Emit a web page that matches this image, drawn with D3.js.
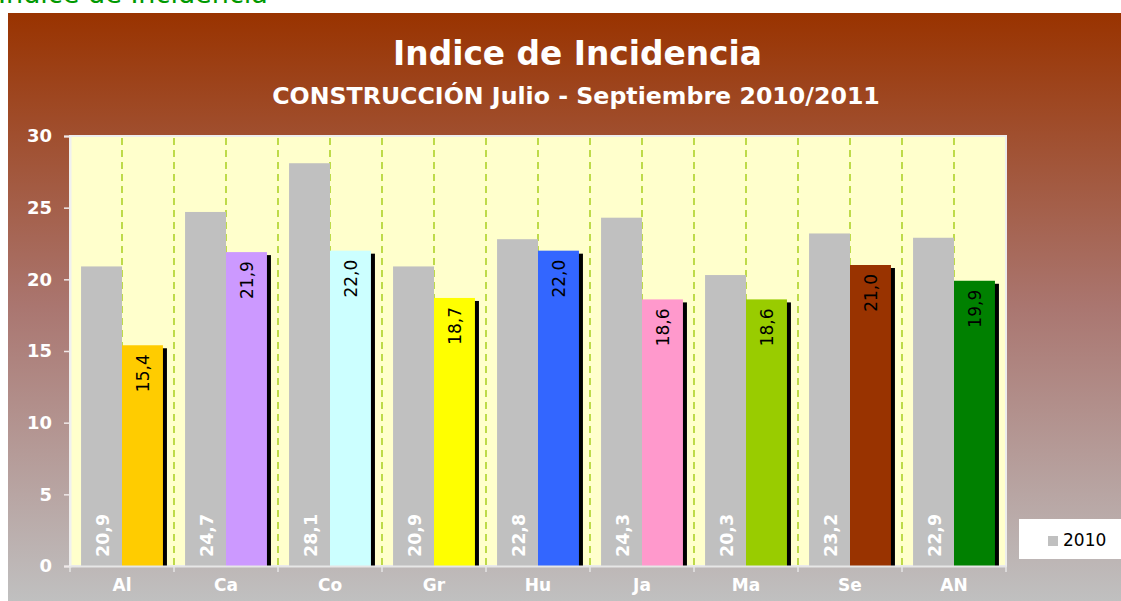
<!DOCTYPE html>
<html><head><meta charset="utf-8">
<script src="https://cdn.jsdelivr.net/npm/d3@7"></script>
<style>
html,body{margin:0;padding:0;background:#fff;overflow:hidden}
svg{display:block}
</style></head>
<body>
<svg id="chart" width="1121" height="601"></svg>
<script>
const categories = ["Al","Ca","Co","Gr","Hu","Ja","Ma","Se","AN"];
const series = ["2010","2011"];
const values2010 = [20.9,24.7,28.1,20.9,22.8,24.3,20.3,23.2,22.9];
const values2011 = [15.4,21.9,22.0,18.7,22.0,18.6,18.6,21.0,19.9];
const colors2011 = ["#FFCC00","#CC99FF","#CCFFFF","#FFFF00","#3366FF","#FF99CC","#99CC00","#993300","#008000"];
const yTicks = [0,5,10,15,20,25,30];
const titleText = "Indice de Incidencia";
const subtitleText = "CONSTRUCCIÓN Julio - Septiembre 2010/2011";
const headerText = "Indice de Incidencia";

const svg = d3.select("#chart");
const fmt = v => d3.format(".1f")(v).replace(".", ",");

const defs = svg.append("defs");
const grad = defs.append("linearGradient").attr("id","bg").attr("x1",0).attr("y1",0).attr("x2",0).attr("y2",1);
grad.append("stop").attr("offset","0%").attr("stop-color","#993300");
grad.append("stop").attr("offset","50%").attr("stop-color","#AA7670");
grad.append("stop").attr("offset","100%").attr("stop-color","#C0C0C0");

// header text (cut off at top, as in the reference)
const hdr = svg.append("text").attr("x",-2).attr("y",3).attr("font-family","DejaVu Sans, Verdana, sans-serif")
  .attr("font-size",24).attr("fill","#009900").text(headerText);

// panel
svg.append("rect").attr("x",8).attr("y",13).attr("width",1121-8).attr("height",601-13).attr("fill","url(#bg)");

const margin = {left:70, right:1006, top:136, bottom:566};
const x = d3.scaleBand().domain(categories).range([margin.left, margin.right]).paddingInner(0).paddingOuter(0);
const x1 = d3.scaleBand().domain(series).range([0, x.bandwidth()]).paddingInner(0).paddingOuter(0.27);
const y = d3.scaleLinear().domain([0,30]).range([margin.bottom, margin.top]);

// plot area
svg.append("rect").attr("x",margin.left).attr("y",margin.top)
  .attr("width",margin.right-margin.left).attr("height",margin.bottom-margin.top)
  .attr("fill","#FFFFCC").attr("stroke","#EDEDED").attr("stroke-width",2);

// dashed grid lines at category boundaries and middles
const gridX = [];
categories.forEach((c,i) => {
  gridX.push(x(c) + x.bandwidth()/2);
  if (i < categories.length-1) gridX.push(x(c) + x.bandwidth());
});
svg.append("g").selectAll("line").data(gridX).join("line")
  .attr("x1",d=>d).attr("x2",d=>d).attr("y1",y(30)+2).attr("y2",y(0))
  .attr("stroke","#AED22A").attr("stroke-width",1.6).attr("stroke-dasharray","7,5");

const rows = categories.map((c,i)=>({c, v10:values2010[i], v11:values2011[i], col:colors2011[i]}));

// shadows for 2011 bars
svg.append("g").selectAll("rect").data(rows).join("rect")
  .attr("x",d=>x(d.c)+x1("2011")+4).attr("y",d=>y(d.v11)+3)
  .attr("width",x1.bandwidth()).attr("height",d=>y(0)+1-(y(d.v11)+3))
  .attr("fill","#000");

// 2010 bars
svg.append("g").selectAll("rect").data(rows).join("rect")
  .attr("x",d=>x(d.c)+x1("2010")).attr("y",d=>y(d.v10))
  .attr("width",x1.bandwidth()).attr("height",d=>y(0)-y(d.v10))
  .attr("fill","#C0C0C0");

// 2011 bars
svg.append("g").selectAll("rect").data(rows).join("rect")
  .attr("x",d=>x(d.c)+x1("2011")).attr("y",d=>y(d.v11))
  .attr("width",x1.bandwidth()).attr("height",d=>y(0)-y(d.v11))
  .attr("fill",d=>d.col);

// labels 2010 (white, bottom)
svg.append("g").selectAll("text").data(rows).join("text")
  .attr("transform",d=>`translate(${x(d.c)+x1("2010")+x1.bandwidth()/2+7},${y(0)-9}) rotate(-90)`)
  .attr("text-anchor","start").attr("font-family","DejaVu Sans, Verdana, sans-serif")
  .attr("font-size",17.5).attr("font-weight","bold").attr("fill","#fff").text(d=>fmt(d.v10));

// labels 2011 (black, top)
svg.append("g").selectAll("text").data(rows).join("text")
  .attr("transform",d=>`translate(${x(d.c)+x1("2011")+x1.bandwidth()/2+7},${y(d.v11)+9}) rotate(-90)`)
  .attr("text-anchor","end").attr("font-family","DejaVu Sans, Verdana, sans-serif")
  .attr("font-size",17).attr("fill","#000").text(d=>fmt(d.v11));

// y axis
const yAxis = svg.append("g").attr("transform",`translate(${margin.left},0)`)
  .call(d3.axisLeft(y).tickValues(yTicks).tickSize(6).tickPadding(12).tickFormat(d3.format("d")));
yAxis.select(".domain").attr("stroke","#F0F0F0").attr("stroke-width",2);
yAxis.selectAll(".tick line").attr("stroke","#F0E8E8").attr("stroke-width",1.5);
yAxis.selectAll(".tick text").attr("fill","#fff").attr("font-family","DejaVu Sans, Verdana, sans-serif")
  .attr("font-size",18).attr("font-weight","bold");

// x axis
const xAxis = svg.append("g").attr("transform",`translate(0,${y(0)})`)
  .call(d3.axisBottom(x).tickSize(0).tickPadding(13));
xAxis.select(".domain").attr("stroke","#E6E6E6").attr("stroke-width",2);
xAxis.selectAll(".tick text").attr("fill","#fff").attr("font-family","DejaVu Sans, Verdana, sans-serif")
  .attr("font-size",17).attr("font-weight","bold");
const bTicks = categories.map(c=>x(c)).concat([x.range()[1]]);
svg.append("g").selectAll("line").data(bTicks).join("line")
  .attr("x1",d=>d).attr("x2",d=>d).attr("y1",y(0)).attr("y2",y(0)+6)
  .attr("stroke","#E6E6E6").attr("stroke-width",1.5);

// titles
function fitText(sel, target){
  const n = sel.node(); const w = n.getComputedTextLength();
  const fs = +sel.attr("font-size");
  sel.attr("font-size", fs*target/w);
}
fitText(hdr, 270);
const t1 = svg.append("text").attr("x",577.5).attr("y",65).attr("text-anchor","middle")
  .attr("font-family","DejaVu Sans, Verdana, sans-serif").attr("font-weight","bold")
  .attr("font-size",31).attr("fill","#fff").text(titleText);
fitText(t1, 369);
const t2 = svg.append("text").attr("x",576).attr("y",104).attr("text-anchor","middle")
  .attr("font-family","DejaVu Sans, Verdana, sans-serif").attr("font-weight","bold")
  .attr("font-size",20).attr("fill","#fff").text(subtitleText);
fitText(t2, 608);

// legend
const lg = svg.append("g");
lg.append("rect").attr("x",1019).attr("y",519).attr("width",110).attr("height",40).attr("fill","#fff");
lg.append("rect").attr("x",1048).attr("y",536).attr("width",10).attr("height",10).attr("fill","#C0C0C0");
lg.append("text").attr("x",1063).attr("y",546).attr("font-family","DejaVu Sans, Verdana, sans-serif")
  .attr("font-size",17).attr("fill","#000").text(series[0]);
</script>
</body></html>
